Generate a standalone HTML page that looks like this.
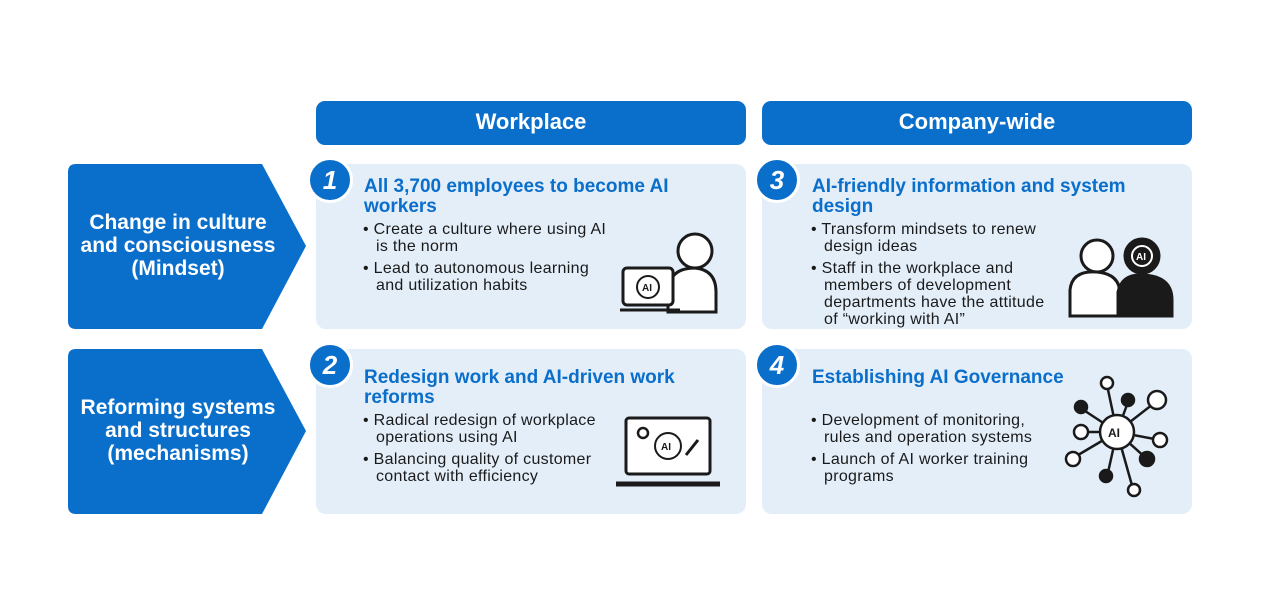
<!DOCTYPE html>
<html><head><meta charset="utf-8"><style>
body{margin:0;width:1280px;height:598px;background:#fff;position:relative;overflow:hidden;font-family:"Liberation Sans","DejaVu Sans",sans-serif}
.hdr{position:absolute;top:101px;height:44px;width:430px;background:#0a6ecb;border-radius:9px;color:#fff;font-weight:bold;font-size:22px;text-align:center;line-height:42px}
.card{position:absolute;width:430px;height:165px;background:#e3eef9;border-radius:10px}
.num{position:absolute;width:40px;height:40px;border-radius:50%;background:#0a6ecb;border:3px solid #fff;color:#fff;font-weight:bold;font-style:italic;font-size:26px;text-align:center;line-height:40px}
.t{position:absolute;color:#0a6ecb;font-weight:bold;font-size:19px;line-height:20px;white-space:nowrap}
.b{position:absolute;font-size:16px;letter-spacing:0.3px;line-height:17px;color:#1a1a1a;white-space:nowrap}
.b div{padding-left:13px;text-indent:-13px;margin-bottom:5px}
.lab{position:absolute;left:68px;width:220px;color:#fff;font-weight:bold;font-size:21px;line-height:23px;text-align:center;white-space:nowrap}
</style></head><body>
<svg style="position:absolute;left:0;top:0" width="1280" height="598">
<path d="M76 164 H262 L306 246 L262 329 H76 Q68 329 68 321 V172 Q68 164 76 164Z" fill="#0a6ecb"/>
<path d="M76 349 H262 L306 431 L262 514 H76 Q68 514 68 506 V357 Q68 349 76 349Z" fill="#0a6ecb"/>
</svg>
<div class="hdr" style="left:316px">Workplace</div>
<div class="hdr" style="left:762px">Company-wide</div>
<div class="lab" style="top:211px">Change in culture<br>and consciousness<br>(Mindset)</div>
<div class="lab" style="top:396px">Reforming systems<br>and structures<br>(mechanisms)</div>
<div class="card" style="left:316px;top:164px"></div>
<div class="card" style="left:762px;top:164px"></div>
<div class="card" style="left:316px;top:349px"></div>
<div class="card" style="left:762px;top:349px"></div>
<div class="num" style="left:307px;top:157px">1</div>
<div class="num" style="left:754px;top:157px">3</div>
<div class="num" style="left:307px;top:342px">2</div>
<div class="num" style="left:754px;top:342px">4</div>
<div class="t" style="left:364px;top:177px">All 3,700 employees to become AI<br>workers</div>
<div class="b" style="left:363px;top:221px"><div>• Create a culture where using AI<br>is the norm</div><div>• Lead to autonomous learning<br>and utilization habits</div></div>
<div class="t" style="left:812px;top:177px">AI-friendly information and system<br>design</div>
<div class="b" style="left:811px;top:221px"><div>• Transform mindsets to renew<br>design ideas</div><div>• Staff in the workplace and<br>members of development<br>departments have the attitude<br>of “working with AI”</div></div>
<div class="t" style="left:364px;top:368px">Redesign work and AI-driven work<br>reforms</div>
<div class="b" style="left:363px;top:412px"><div>• Radical redesign of workplace<br>operations using AI</div><div>• Balancing quality of customer<br>contact with efficiency</div></div>
<div class="t" style="left:812px;top:368px">Establishing AI Governance</div>
<div class="b" style="left:811px;top:412px"><div>• Development of monitoring,<br>rules and operation systems</div><div>• Launch of AI worker training<br>programs</div></div>
<svg style="position:absolute;left:0;top:0" width="1280" height="598" fill="none" stroke="#1a1a1a" stroke-width="3" font-family="Liberation Sans" font-weight="bold">
<circle cx="695" cy="251" r="17" fill="#fff"/>
<path d="M668 312 V290 Q670 268 695 268 Q716 270 716 292 V312Z" fill="#fff"/>
<rect x="623" y="268" width="50" height="37" rx="4" fill="#fff"/>
<path d="M620 310 H680"/>
<circle cx="648" cy="287" r="11" stroke-width="2"/><text x="642" y="291" font-size="10" fill="#1a1a1a" stroke="none">AI</text>
<circle cx="1097" cy="256" r="16" fill="#fff"/>
<path d="M1070 316 V290 Q1072 270 1097 272 Q1120 274 1120 294 V316Z" fill="#fff"/>
<circle cx="1142" cy="256" r="17" fill="#1a1a1a"/>
<path d="M1118 316 V292 Q1122 274 1142 275 Q1172 276 1172 300 V316Z" fill="#1a1a1a"/>
<circle cx="1142" cy="256" r="10" stroke="#fff" stroke-width="2"/><text x="1136" y="260" font-size="10" fill="#fff" stroke="none">AI</text>
<rect x="626" y="418" width="84" height="56" rx="3" fill="#fff"/>
<path d="M616 484 H720" stroke-width="5"/>
<circle cx="668" cy="446" r="13" stroke-width="2"/><text x="661" y="450" font-size="10" fill="#1a1a1a" stroke="none">AI</text>
<circle cx="643" cy="433" r="5" stroke-width="2.5"/>
<path d="M686 455 L698 440" stroke-width="3"/>
<g stroke-width="2.5">
<path d="M1117 432 L1107 385 M1117 432 L1128 402 M1117 432 L1157 401 M1117 432 L1082 409 M1117 432 L1082 432 M1117 432 L1160 440 M1117 432 L1147 459 M1117 432 L1073 458 M1117 432 L1107 477 M1117 432 L1133 489"/>
<circle cx="1117" cy="432" r="17" fill="#fff"/>
<circle cx="1107" cy="383" r="6" fill="#fff"/><circle cx="1128" cy="400" r="6" fill="#1a1a1a"/>
<circle cx="1157" cy="400" r="9" fill="#fff"/><circle cx="1081" cy="407" r="6" fill="#1a1a1a"/>
<circle cx="1081" cy="432" r="7" fill="#fff"/><circle cx="1160" cy="440" r="7" fill="#fff"/>
<circle cx="1147" cy="459" r="7" fill="#1a1a1a"/><circle cx="1073" cy="459" r="7" fill="#fff"/>
<circle cx="1106" cy="476" r="6" fill="#1a1a1a"/><circle cx="1134" cy="490" r="6" fill="#fff"/>
</g>
<text x="1108" y="437" font-size="12" fill="#1a1a1a" stroke="none">AI</text>
</svg>
</body></html>
